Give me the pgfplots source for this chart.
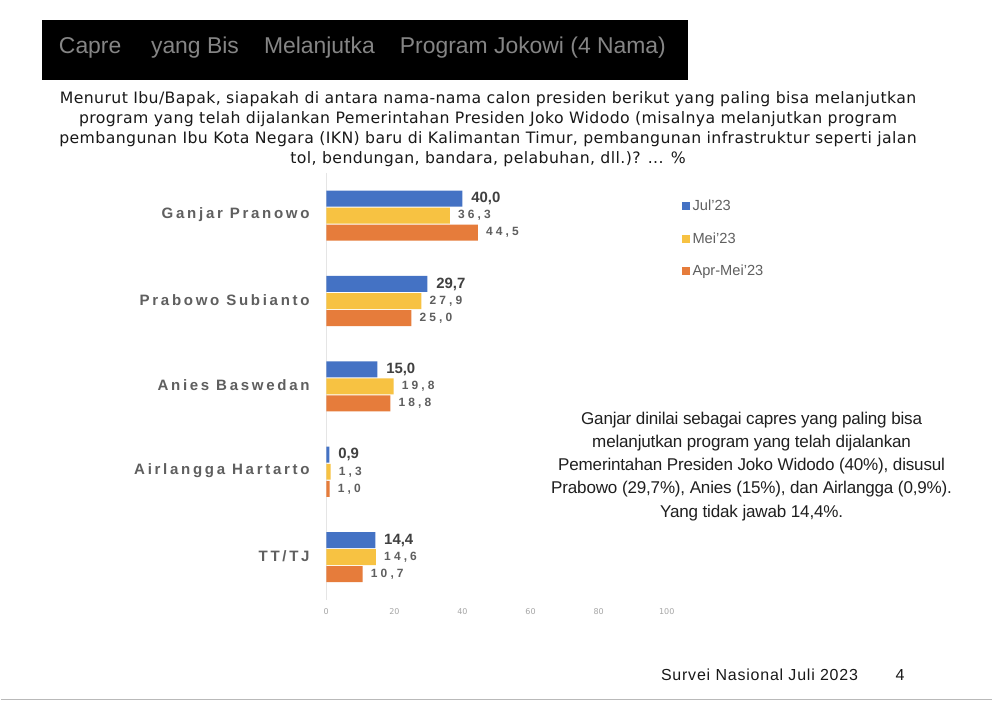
\documentclass[border=0pt]{standalone}
\usepackage{fontspec}
\usepackage{pgfplots}
\pgfplotsset{compat=1.18}
\usepackage{pgfplotstable}
\setmainfont{Liberation Sans}
\newfontfamily\verd[LetterSpace=2.5]{DejaVu Sans}
\newfontfamily\tickf{DejaVu Sans}
\newfontfamily\catfont[LetterSpace=18]{Liberation Sans}
\newfontfamily\labfont[LetterSpace=26]{Liberation Sans}
\newfontfamily\notefont[LetterSpace=-1]{Liberation Sans}
\newfontfamily\footfont[LetterSpace=5]{Liberation Sans}
\definecolor{cblue}{HTML}{4472C4}
\definecolor{cyellow}{HTML}{F7C242}
\definecolor{corange}{HTML}{E67C3B}
\definecolor{txtgray}{HTML}{5F5F5F}

\pgfplotstableread{
x y lab
40.0 -0.2 40,0
29.7 0.8 29,7
15.0 1.8 15,0
0.9 2.8 0,9
14.4 3.8 14,4
}\jul
\pgfplotstableread{
x y lab
36.3 0 36,3
27.9 1 27,9
19.8 2 19,8
1.3 3 1,3
14.6 4 14,6
}\mei
\pgfplotstableread{
x y lab
44.5 0.2 44,5
25.0 1.2 25,0
18.8 2.2 18,8
1.0 3.2 1,0
10.7 4.2 10,7
}\aprmei

\begin{document}
\begin{tikzpicture}
\begin{scope}[x=0.75pt,y=-0.75pt]
\fill[white] (0,0) rectangle (993,705);
\fill[black] (41,20) rectangle (688,80);
\node[anchor=west, text=black!48, inner sep=0pt, font=\fontsize{17.2}{19}\selectfont] at (58,48) {Capre\hspace{1.3em}yang Bis\hspace{1.1em}Melanjutka\hspace{1.1em}Program Jokowi (4 Nama)};
\node[align=center, inner sep=0pt, text=black!90, font=\verd\fontsize{11.8}{15}\selectfont] at (488,129.5) {Menurut Ibu/Bapak, siapakah di antara nama-nama calon presiden berikut yang paling bisa melanjutkan\\program yang telah dijalankan Pemerintahan Presiden Joko Widodo (misalnya melanjutkan program\\pembangunan Ibu Kota Negara (IKN) baru di Kalimantan Timur, pembangunan infrastruktur seperti jalan\\tol, bendungan, bandara, pelabuhan, dll.)? ... \%};
\node[align=center, inner sep=0pt, text=black!88, font=\notefont\fontsize{12.8}{17.5}\selectfont] at (752,467) {Ganjar dinilai sebagai capres yang paling bisa\\melanjutkan program yang telah dijalankan\\Pemerintahan Presiden Joko Widodo (40\%), disusul\\Prabowo (29,7\%), Anies (15\%), dan Airlangga (0,9\%).\\Yang tidak jawab 14,4\%.};
\node[anchor=base west, inner sep=0pt, text=black!90, font=\footfont\fontsize{12}{14}\selectfont] at (661,682) {Survei Nasional Juli 2023};
\node[anchor=base west, inner sep=0pt, text=black!90, font=\fontsize{12}{14}\selectfont] at (896,682) {4};
\draw[gray!55, line width=1.2pt] (0,700.5) -- (993,700.5);
\end{scope}
\begin{axis}[
  at={(244.5pt,-450.5625pt)}, anchor=south west,
  scale only axis, width=255.75pt, height=320.625pt,
  xbar, bar width=12pt, bar shift=0pt,
  xmin=0, xmax=100, ymin=-0.5, ymax=4.5, y dir=reverse,
  xtick={0,20,40,60,80,100}, ytick={0,1,2,3,4},
  yticklabels={Ganjar Pranowo,Prabowo Subianto,Anies Baswedan,Airlangga Hartarto,TT/TJ},
  axis x line*=bottom, axis y line*=left,
  x axis line style={draw=none},
  y axis line style={draw=gray!20, line width=0.6pt},
  major tick length=0pt, tick style={draw=none},
  /pgf/number format/assume math mode=true,
  xticklabel style={font=\tickf\fontsize{6}{7}\selectfont, text=gray!70, yshift=-3pt},
  yticklabel style={font=\catfont\bfseries\fontsize{11.3}{13}\selectfont, text=txtgray, xshift=-9pt, yshift=1pt},
  legend style={at={(1.032,0.95)}, anchor=north west, draw=none, fill=none,
    font=\fontsize{11}{13}\selectfont, text=txtgray, row sep=11pt},
  legend cell align=left,
  legend image code/.code={\fill[#1] (0pt,-3pt) rectangle (6pt,3pt);},
  point meta=explicit symbolic,
]
\addplot[fill=cblue, draw=none, nodes near coords,
  nodes near coords style={anchor=west, inner sep=0pt, xshift=6.5pt, text=black!75, font=\bfseries\fontsize{11.2}{12}\selectfont}]
  table[x=x, y=y, meta=lab] {\jul};
\addlegendentry{Jul'23}
\addplot[fill=cyellow, draw=none, nodes near coords,
  nodes near coords style={anchor=west, inner sep=0pt, xshift=6pt, text=txtgray, font=\labfont\bfseries\fontsize{9}{10}\selectfont}]
  table[x=x, y=y, meta=lab] {\mei};
\addlegendentry{Mei'23}
\addplot[fill=corange, draw=none, nodes near coords,
  nodes near coords style={anchor=west, inner sep=0pt, xshift=6pt, text=txtgray, font=\labfont\bfseries\fontsize{9}{10}\selectfont}]
  table[x=x, y=y, meta=lab] {\aprmei};
\addlegendentry{Apr-Mei'23}
\end{axis}
\end{tikzpicture}
\end{document}
